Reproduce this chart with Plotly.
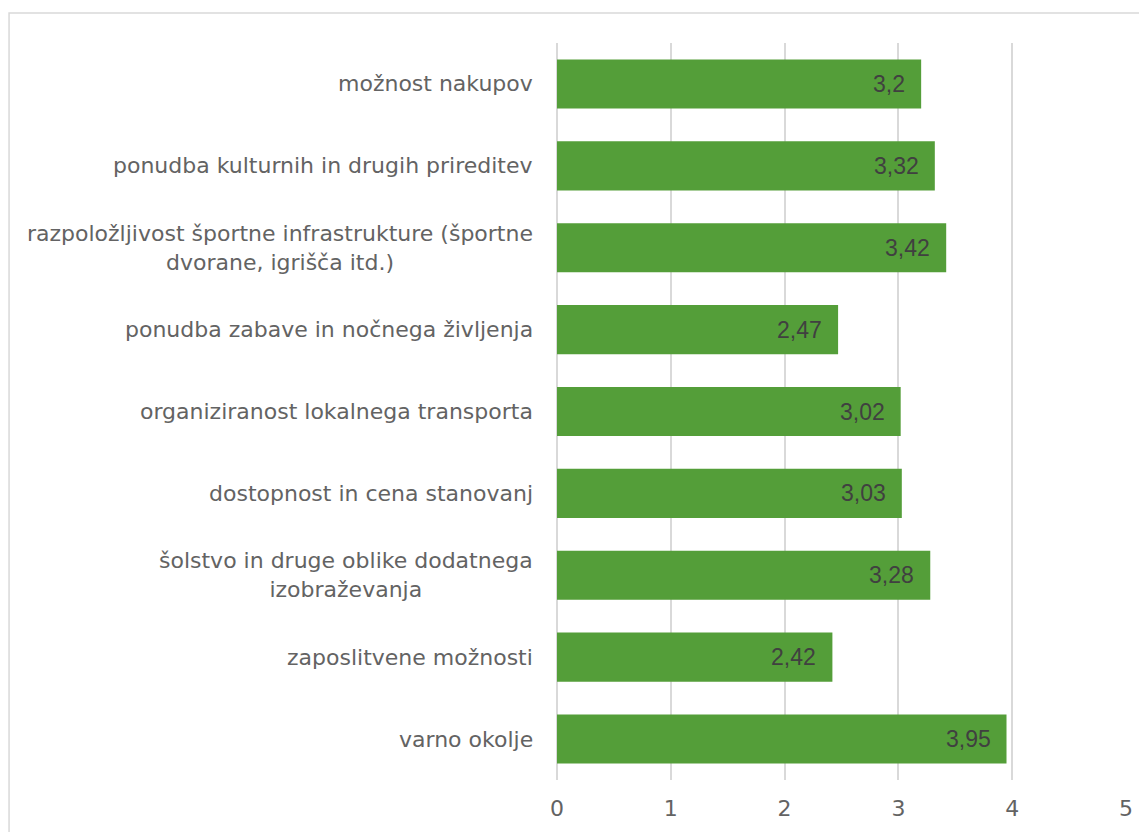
import plotly.graph_objects as go

categories = [
    "možnost nakupov",
    "ponudba kulturnih in drugih prireditev",
    "razpoložljivost športne infrastrukture (športne<br>dvorane, igrišča itd.)",
    "ponudba zabave in nočnega življenja",
    "organiziranost lokalnega transporta",
    "dostopnost in cena stanovanj",
    "šolstvo in druge oblike dodatnega<br>izobraževanja",
    "zaposlitvene možnosti",
    "varno okolje",
]
values = [3.2, 3.32, 3.42, 2.47, 3.02, 3.03, 3.28, 2.42, 3.95]
value_labels = ["3,2", "3,32", "3,42", "2,47", "3,02", "3,03", "3,28", "2,42", "3,95"]
tick_vals = [0, 1, 2, 3, 4, 5]
tick_text = ["0", "1", "2", "3", "4", "5"]

LABEL_FONT = "DejaVu Sans"
GREEN = "#549E39"

fig = go.Figure()
fig.add_trace(go.Bar(
    x=values,
    y=categories,
    orientation="h",
    width=0.6,
    marker=dict(color=GREEN, line=dict(width=0)),
    hoverinfo="skip",
))

for cat, v, lab in zip(categories, values, value_labels):
    fig.add_annotation(
        x=v, y=cat, xref="x", yref="y", text=lab, showarrow=False,
        xanchor="right", yanchor="middle", xshift=-14,
        font=dict(family="Liberation Sans", size=23, color="#404040"),
    )
    fig.add_annotation(
        x=0, y=cat, xref="x", yref="y", text=cat, showarrow=False,
        xanchor="right", yanchor="middle", xshift=-22, align="center",
        font=dict(family=LABEL_FONT, size=22, color="#636363"),
    )

fig.add_shape(
    type="rect", xref="paper", yref="paper",
    x0=-0.963, x1=1.2, y0=-0.3, y1=1.0407,
    line=dict(color="#D9D9D9", width=1.5), fillcolor="rgba(0,0,0,0)", layer="below",
)

fig.update_layout(
    width=1147, height=832,
    margin=dict(l=549, r=29, t=35, b=60),
    paper_bgcolor="white", plot_bgcolor="white",
    showlegend=False,
    bargap=0.4,
    xaxis=dict(
        range=[0, 5.0], tickvals=tick_vals, ticktext=tick_text,
        showgrid=True, gridcolor="#D9D9D9", gridwidth=1.5,
        zeroline=True, zerolinecolor="#D9D9D9", zerolinewidth=1.5,
        showline=False, ticks="outside", ticklen=9, tickcolor="rgba(0,0,0,0)",
        tickfont=dict(family=LABEL_FONT, size=22, color="#636363"),
        fixedrange=True,
    ),
    yaxis=dict(
        autorange="reversed", showticklabels=False, showgrid=False,
        zeroline=False, showline=False, fixedrange=True,
    ),
)

fig.write_html("out.html")
